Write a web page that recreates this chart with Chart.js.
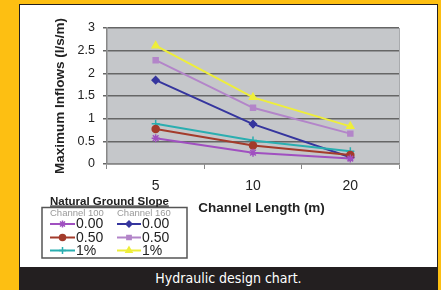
<!DOCTYPE html>
<html><head><meta charset="utf-8">
<script src="https://cdn.jsdelivr.net/npm/chart.js@4/dist/chart.umd.min.js"></script>
<style>
html,body{margin:0;padding:0;}
body{width:441px;height:290px;background:#fdbf12;position:relative;overflow:hidden;}
#frame{position:absolute;left:19px;top:4px;width:419px;height:286px;background:#231f20;}
#panel{position:absolute;left:1px;top:1px;width:417px;height:262px;background:#fff;}
#caption{position:absolute;left:0;top:263px;width:419px;height:23px;line-height:23px;text-align:center;color:#fff;
 font-family:"Liberation Sans Narrow","DejaVu Sans Condensed","Roboto",sans-serif;font-size:14px;}
canvas{position:absolute;left:0;top:0;}
</style></head>
<body>
<div id="frame"><div id="panel"><canvas id="c" width="417" height="262"></canvas></div>
<div id="caption">Hydraulic design chart.</div></div>
<script>
const categories = ['5', '10', '20'];
const slopeLabels = ['0.00', '0.50', '1%'];
const groupLabels = ['Channel 100', 'Channel 160'];
const ch100_000 = [0.57, 0.25, 0.12];
const ch100_050 = [0.77, 0.41, 0.20];
const ch100_1pc = [0.89, 0.52, 0.28];
const ch160_000 = [1.85, 0.88, 0.15];
const ch160_050 = [2.29, 1.24, 0.67];
const ch160_1pc = [2.61, 1.47, 0.83];
const yTicks = [0, 0.5, 1, 1.5, 2, 2.5, 3];
const xTitle = 'Channel Length (m)';
const yTitle = 'Maximum Inflows (l/s/m)';
const legendTitle = 'Natural Ground Slope';

const FONT = '"Liberation Sans", Arial, sans-serif';
Chart.defaults.font.family = FONT;

function ds(label, data, color, style, radius) {
  return {label, data, borderColor: color, backgroundColor: color, pointBackgroundColor: color,
    pointBorderColor: color, pointStyle: style, pointRadius: radius, pointBorderWidth: 1.5,
    borderWidth: 2, tension: 0, fill: false};
}
const datasets = [
  ds(slopeLabels[0], ch100_000, '#a050c0', 'star', 4),
  ds(slopeLabels[1], ch100_050, '#a33b2b', 'circle', 3.5),
  ds(slopeLabels[2], ch100_1pc, '#2aaeb0', 'cross', 4),
  ds(slopeLabels[0], ch160_000, '#35359e', 'rectRot', 3.5),
  ds(slopeLabels[1], ch160_050, '#b385c9', 'rect', 3.5),
  ds(slopeLabels[2], ch160_1pc, '#eeee3a', 'triangle', 4)
];

const bgPlugin = {id: 'bg', beforeDraw(chart) {
  const {ctx, chartArea: a} = chart;
  ctx.save();
  ctx.fillStyle = '#c5c7ca';
  ctx.fillRect(a.left, a.top, a.right - a.left, a.bottom - a.top);
  ctx.strokeStyle = '#a9abae'; ctx.lineWidth = 1;
  ctx.beginPath(); ctx.moveTo(a.right + 0.5, a.top); ctx.lineTo(a.right + 0.5, a.bottom); ctx.stroke();
  ctx.restore();
}};

const legendPlugin = {id: 'customLegend', afterDraw(chart) {
  const ctx = chart.ctx;
  ctx.save();
  ctx.font = 'bold 13.5px ' + FONT;
  ctx.fillStyle = '#222'; ctx.textAlign = 'center'; ctx.textBaseline = 'middle';
  ctx.fillText(xTitle, 241.5, 203);
  ctx.font = 'bold 11.5px ' + FONT;
  ctx.textAlign = 'left'; ctx.textBaseline = 'alphabetic';
  ctx.fillText(legendTitle, 30, 199.5);
  const w = ctx.measureText(legendTitle).width;
  ctx.fillRect(30, 200.5, w, 1.2);
  ctx.strokeStyle = '#555'; ctx.lineWidth = 1.5;
  ctx.strokeRect(22, 202.5, 145, 50.5);
  const cols = [{x0: 30, x1: 55, tx: 56}, {x0: 97, x1: 121, tx: 122}];
  const rows = [219, 232.5, 245.5];
  ctx.textBaseline = 'middle';
  cols.forEach((c, ci) => {
    ctx.font = '9.5px ' + FONT; ctx.fillStyle = '#9a9a9a';
    ctx.fillText(groupLabels[ci], c.x0, 208);
    for (let r = 0; r < 3; r++) {
      const d = datasets[ci * 3 + r];
      const y = rows[r];
      ctx.strokeStyle = d.borderColor; ctx.lineWidth = 2;
      ctx.beginPath(); ctx.moveTo(c.x0, y); ctx.lineTo(c.x1, y); ctx.stroke();
      ctx.fillStyle = d.borderColor; ctx.lineWidth = 1.5;
      Chart.helpers.drawPoint(ctx, {pointStyle: d.pointStyle, radius: d.pointRadius - 0.5, borderWidth: 1.5, rotation: 0}, (c.x0 + c.x1) / 2, y);
      ctx.font = '14px ' + FONT; ctx.fillStyle = '#222';
      ctx.fillText(d.label, c.tx, y + 0.5);
    }
  });
  ctx.restore();
}};

new Chart(document.getElementById('c'), {
  type: 'line',
  data: {labels: categories, datasets},
  options: {
    responsive: false, animation: false,
    layout: {padding: {left: 28, top: 23, right: 38, bottom: 0}},
    plugins: {legend: {display: false}, tooltip: {enabled: false}},
    scales: {
      x: {type: 'category', offset: true,
        grid: {offset: true, drawOnChartArea: false, drawTicks: true, tickLength: 5, color: '#888', lineWidth: 1},
        border: {display: true, color: '#888', width: 1.5},
        ticks: {color: '#222', font: {size: 14}, padding: 9},
        afterFit(s) { s.height = 103; }},
      y: {min: 0, max: 3,
        ticks: {stepSize: 0.5, color: '#222', font: {size: 12.5}, padding: 8,
          callback: (v) => { const t = yTicks.find(k => Math.abs(k - v) < 1e-9); return t === undefined ? '' : String(t); }},
        grid: {color: '#666', lineWidth: 1.5, tickLength: 4, drawTicks: true},
        border: {display: true, color: '#888', width: 1.5},
        title: {display: true, text: yTitle, color: '#222', font: {size: 13.5, weight: 'bold'}, padding: {top: 4, bottom: 0}},
        afterFit(s) { s.width = 59; }}
    }
  },
  plugins: [bgPlugin, legendPlugin]
});
</script>
</body></html>
